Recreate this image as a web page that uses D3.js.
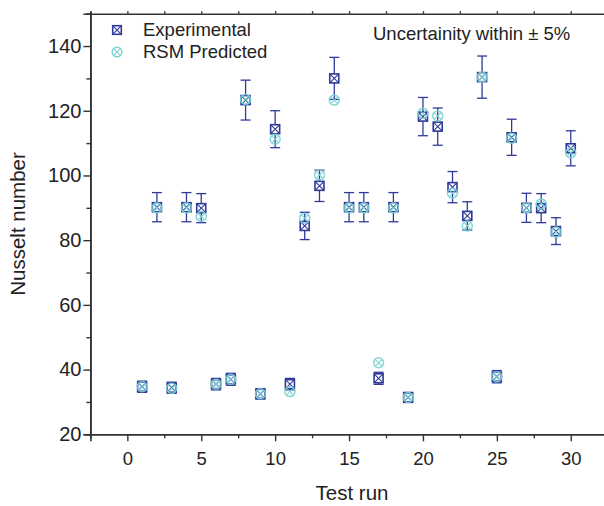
<!DOCTYPE html>
<html><head><meta charset="utf-8">
<script src="https://cdn.jsdelivr.net/npm/d3@7/dist/d3.min.js"></script>
<style>body{margin:0;background:#fff}svg{display:block}text{font-family:"Liberation Sans",Arial,sans-serif;fill:#222}</style>
</head><body>
<script>
const runs = [1,2,3,4,5,6,7,8,9,10,11,12,13,14,15,16,17,18,19,20,21,22,23,24,25,26,27,28,29,30];
const experimental = [34.7,90.2,34.4,90.2,89.9,35.5,37.0,123.3,32.5,114.3,35.5,84.4,96.8,130.0,90.2,90.2,37.3,90.2,31.4,118.2,115.1,96.4,87.5,130.4,37.8,111.8,90.0,89.9,82.8,108.4];
const predicted = [34.7,90.0,34.2,90.0,87.3,35.5,37.0,123.5,32.5,111.2,33.2,86.8,100.2,123.3,90.0,90.0,42.1,90.0,31.4,119.2,118.4,94.5,84.4,130.4,37.8,111.5,90.0,91.2,82.5,107.0];
const uncertainty = 0.05;
const yTicks = [20,40,60,80,100,120,140];
const yMinor = [30,50,70,90,110,130,150];
const xTicks = [0,5,10,15,20,25,30];
const xMinor = [-2.5,2.5,7.5,12.5,17.5,22.5,27.5,32.5];
const legendLabels = ["Experimental","RSM Predicted"];
const note = "Uncertainity within \u00B1 5%";

const W = 604, H = 506;
const expColor = "#2f3a9a", predColor = "#79d3d3", axisColor = "#333";
const svg = d3.select("body").append("svg").attr("width", W).attr("height", H);
const x = d3.scaleLinear().domain([-2.5, 32.5]).range([90.4, 607.7]);
const y = d3.scaleLinear().domain([20, 150]).range([434.3, 13.7]);

// bottom axis
const gx = svg.append("g").attr("transform", `translate(0,${y(20)})`)
  .call(d3.axisBottom(x).tickValues(xTicks).tickFormat(d3.format("d")).tickSizeOuter(0).tickSize(7).tickPadding(11));
svg.append("g").attr("transform", `translate(0,${y(20)})`)
  .call(d3.axisBottom(x).tickValues(xMinor).tickFormat("").tickSizeOuter(0).tickSize(4));
// top axis
svg.append("g").attr("transform", `translate(0,${y(150)})`)
  .call(d3.axisTop(x).tickValues(xTicks.concat(xMinor)).tickFormat("").tickSizeOuter(0).tickSize(2.5));
// left axis
const gy = svg.append("g").attr("transform", `translate(${x(-2.5)},0)`)
  .call(d3.axisLeft(y).tickValues(yTicks).tickFormat(d3.format("d")).tickSizeOuter(0).tickSize(7).tickPadding(2));
svg.append("g").attr("transform", `translate(${x(-2.5)},0)`)
  .call(d3.axisLeft(y).tickValues(yMinor).tickFormat("").tickSizeOuter(0).tickSize(4));

svg.selectAll(".domain").attr("stroke", axisColor).attr("stroke-width", 1.6);
svg.selectAll(".tick line").attr("stroke", axisColor).attr("stroke-width", 1.4);
gx.selectAll("text").attr("font-size", 18.5).style("fill", "#222");
gy.selectAll("text").attr("font-size", 20).style("fill", "#222");
svg.selectAll(".tick text").attr("font-family", '"Liberation Sans",Arial,sans-serif');

// axis titles
svg.append("text").attr("x", x(15)+3).attr("y", 500).attr("text-anchor", "middle")
  .attr("font-size", 20.5).text("Test run");
svg.append("text").attr("transform", `translate(25,${y(85)}) rotate(-90)`).attr("text-anchor", "middle")
  .attr("font-size", 20.5).text("Nusselt number");

// data
const data = runs.map((r,i) => ({r, e: experimental[i], p: predicted[i]}));
const capW = 5, sq = 4.5, cr = 5;

const eb = svg.append("g").attr("stroke", expColor).attr("stroke-width", 1.3).attr("fill", "none");
data.forEach(d => {
  const lo = y(d.e*(1-uncertainty)), hi = y(d.e*(1+uncertainty)), cx = x(d.r);
  eb.append("line").attr("x1", cx).attr("x2", cx).attr("y1", lo).attr("y2", hi);
  eb.append("line").attr("x1", cx-capW).attr("x2", cx+capW).attr("y1", lo).attr("y2", lo);
  eb.append("line").attr("x1", cx-capW).attr("x2", cx+capW).attr("y1", hi).attr("y2", hi);
});

function squareX(g, cx, cy, s, color) {
  g.append("rect").attr("x", cx-s).attr("y", cy-s).attr("width", 2*s).attr("height", 2*s)
    .attr("fill", "#fff").attr("stroke", color).attr("stroke-width", 1.6);
  g.append("path").attr("d", `M${cx-s},${cy-s}L${cx+s},${cy+s}M${cx+s},${cy-s}L${cx-s},${cy+s}`)
    .attr("stroke", color).attr("stroke-width", 1.1).attr("fill", "none");
}
function circleX(g, cx, cy, r, color) {
  g.append("circle").attr("cx", cx).attr("cy", cy).attr("r", r)
    .attr("fill", "none").attr("stroke", color).attr("stroke-width", 1.5);
  const k = r*0.7071;
  g.append("path").attr("d", `M${cx-k},${cy-k}L${cx+k},${cy+k}M${cx+k},${cy-k}L${cx-k},${cy+k}`)
    .attr("stroke", color).attr("stroke-width", 1.1).attr("fill", "none");
}

const ge = svg.append("g");
data.forEach(d => squareX(ge, x(d.r), y(d.e), sq, expColor));
const gp = svg.append("g").attr("opacity", 0.9);
data.forEach(d => circleX(gp, x(d.r), y(d.p), cr, predColor));

// legend
const lg = svg.append("g");
squareX(lg, 117, 30, 4.3, expColor);
circleX(lg, 117, 52, 4.8, predColor);
lg.append("text").attr("x", 143).attr("y", 36).attr("font-size", 18.5).text(legendLabels[0]);
lg.append("text").attr("x", 143).attr("y", 58).attr("font-size", 18.5).text(legendLabels[1]);

svg.append("text").attr("x", 373).attr("y", 39.5).attr("font-size", 18.5).text(note);
</script>
</body></html>
